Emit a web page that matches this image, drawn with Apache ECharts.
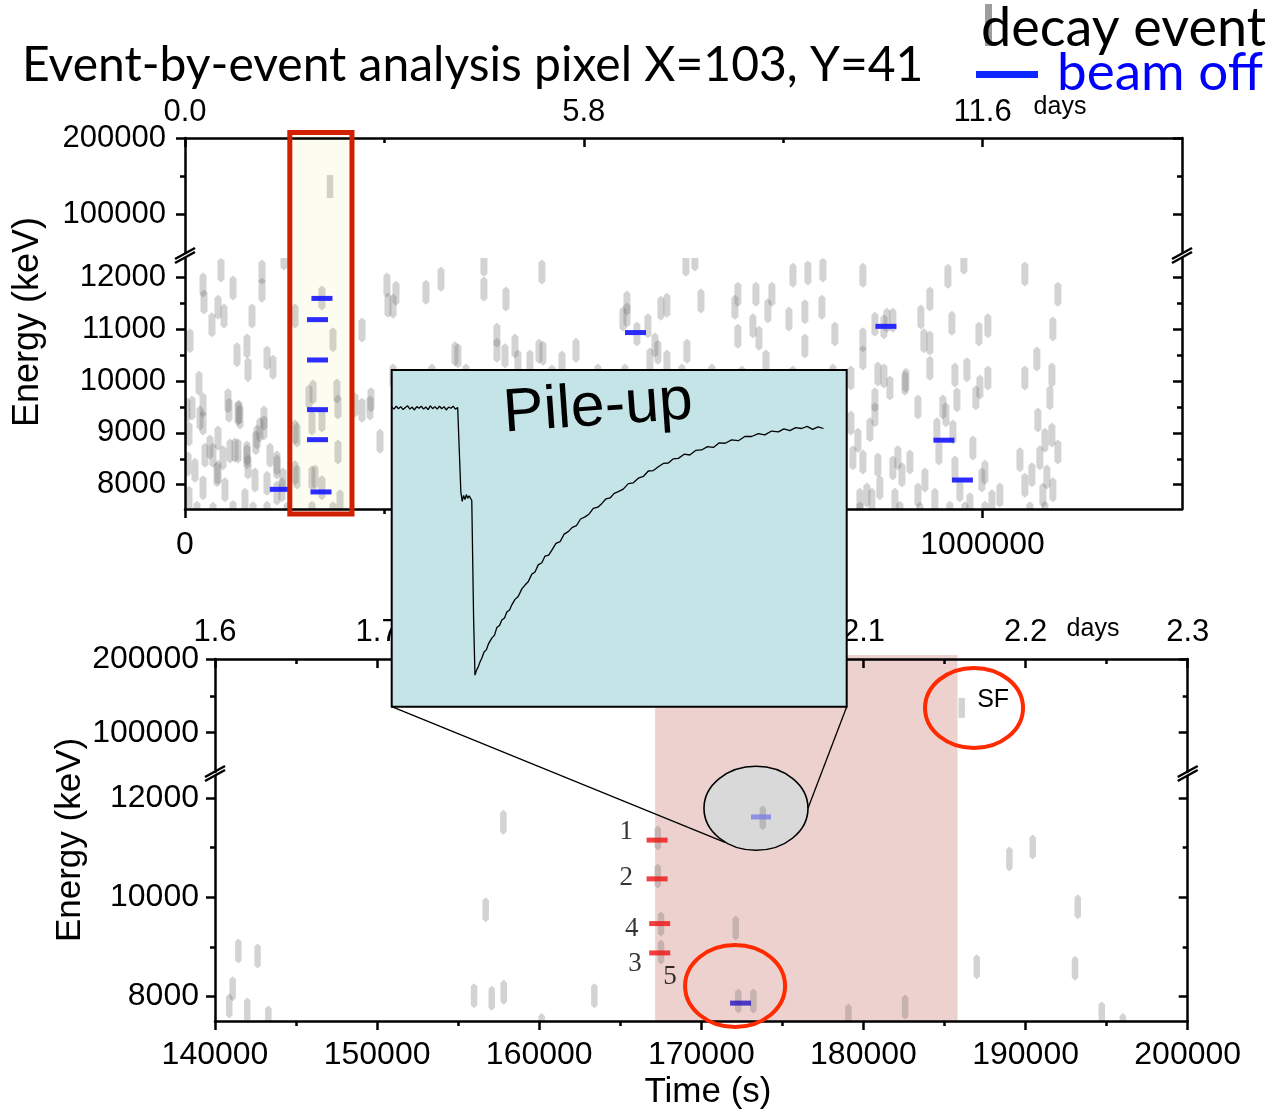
<!DOCTYPE html>
<html><head><meta charset="utf-8">
<script src="https://cdn.jsdelivr.net/npm/echarts/dist/echarts.min.js"></script>
<style>html,body{margin:0;padding:0;background:#fff}#main{width:1269px;height:1111px}</style>
</head><body><div id="main"></div>
<script>
// ---------------- DATA ----------------
// Top panel: time (s) vs energy (keV)
const topDecayUpper = [[181800, 136100]];
const topDecay = [
 [6300,10780],[17600,9960],[22600,11860],[23800,11530],[33800,11090],[41400,11430],[45100,12150],[48900,11260],
 [60200,11800],[65200,10510],[53900,9620],[77700,10680],[79000,10220],[84000,11260],[96500,12110],[96500,11760],
 [102800,10450],[110300,10270],[124100,12380],[137900,11260],[171700,11610],[185500,10800],[190500,9810],[221900,10990],
 [233200,9640],[253200,11860],[254500,11470],[160500,9790],[8800,9480],[213100,9540],[67700,9400],[99000,9290],
 [2500,9440],[3800,8400],[5000,7740],[18800,9290],[22600,7940],[31300,8730],[35100,8570],[41400,8900],[41400,8240],
 [55200,9440],[56400,8650],[66400,9380],[66400,8650],[77700,8610],[79000,8340],[90300,8920],[102800,8030],[115300,8340],
 [115300,7840],[122900,8090],[137900,9020],[137900,8230],[159200,8130],[159200,9190],[171700,9250],[171700,7940],
 [191800,8630],[191800,9500],[194300,7670],[231900,9480],[244500,8840],
 [5000,8980],[22600,9540],[22600,9190],[40100,8190],[47600,8520],[62700,8670],[68900,9310],[77700,8540],[88900,8810],
 [93900,9060],[99000,9100],[115300,8420],[121600,7900],[140400,8960],[140400,8150],[155400,9700],[163000,8150],[221900,9440],
 [12500,8280],[25100,8570],[50100,7900],[75200,7700],[87800,8090],[106600,8570],
 [15000,7450],[35100,7430],[60200,7460],[85300,7440],[102800,7450],[127900,7430],[159200,7450],[185500,7440],
 [260800,11450],[264500,11700],[302100,11720],[320900,11970],[374800,12260],[374800,11780],[402400,11590],[447500,12110],
 [391100,10890],[391100,10600],[401200,10490],[413700,10680],[338500,10530],[342200,10490],[352300,10100],[309600,10100],
 [260800,10100],[417400,10370],[432500,10370],[443800,10580],[448800,10540],[460100,10080],[472600,10350],[490200,10600],
 [517700,10100],[551600,10100],[554100,11510],[554100,11280],[549100,11200],[566600,10910],[580400,11070],[589200,10700],
 [592900,10560],[596700,11410],[604200,11470],[604200,10370],[582900,10410],[623000,10100],[629300,10580],[628000,12260],
 [639300,12360],[646900,11550],[660600,10100],[689500,11430],[693200,11680],[693200,10870],[698300,10060],[712000,11070],
 [715800,11680],[719600,10830],[728400,10370],[730800,11360],[735800,11680],[757200,11200],[762200,12050],[762200,10060],
 [777200,10680],[777200,11340],[781000,12090],[799800,12150],[798500,11430],[812300,10100],[814800,10910],[834900,10060],
 [849900,12050],[849900,10800],[849900,10450],[865000,11100],[876300,11050],[880000,11180],[887500,11180],[868700,10140],
 [876300,10100],[903800,10020],[922600,11240],[926400,10780],[933900,11590],[933900,10740],[933900,10250],[956500,12030],
 [961500,11120],[965300,10120],[976500,12300],[980300,10220],[995400,10910],[1006600,11070],[1006600,10060],[1053000,12070],
 [1053000,10060],[1068000,10430],[1088100,11010],[1086900,10120],[1094400,11680],
 [834900,9190],[837400,8520],[846200,7700],[849900,8440],[854900,7800],[861200,7700],[865000,9640],[865000,9350],
 [868700,8380],[871200,7940],[883800,9870],[887500,8320],[893800,8520],[898800,8190],[902600,9960],[908900,8440],
 [918900,9500],[918900,7800],[942700,9060],[945200,8610],[950200,9500],[954000,9350],[962800,9020],[965300,8320],
 [967800,9640],[987800,8710],[991600,9680],[996600,9890],[999100,8090],[1002900,8240],[1011700,7670],[1053000,7990],
 [1061800,8190],[1069300,9250],[1071800,8520],[1075600,7800],[1080600,8150],[1084400,9680],[1086900,8960],[1088100,7900],
 [1094400,8630],
 [843700,8860],[858700,9060],[890100,7700],[927700,8090],[940200,7700],[971500,7900],[984100,7610],[1021700,7800],
 [1046800,8480],[1078100,8860],
 [846200,7440],[896300,7450],[921300,7430],[958900,7450],[977700,7440],[1002900,7450],[1059300,7440],[1078100,7450]
];
const topBeamOff = [[119500,7910],[166100,11190],[171700,11600],[166100,10410],[166100,9450],[166100,8870],[170500,7860],
 [564800,10940],[878800,11060],[951500,8860],[974700,8090]];

// Bottom panel
const botDecayUpper = [[186060, 133700]];
const botDecay = [
 [141440,8920],[142630,8820],[141090,8160],[140880,7810],[141990,7730],[143290,7570],
 [157790,11510],[156700,9750],[155980,8020],[157070,7970],[157810,8090],[163400,8020],[160150,7420],
 [167310,11190],[167310,10430],[167510,9460],[167510,8900],
 [172120,9380],[172280,7910],[173210,7910],[173790,11600],
 [179070,7610],[182570,7790],[189000,10770],[190440,11010],[193220,9810],[186990,8600],[193050,8570],[194700,7650],[196000,7420]
];
const botBeamOff = [[172420, 7870]];
const pileupBeamOff = [[173680, 11616]];
const chainMarks = [[167270,11150],[167270,10370],[167430,9470],[167430,8880]];
const chainLabels = [[165360,11310,'1'],[165360,10390,'2'],[165710,9360,'4'],[165910,8657,'3'],[168070,8396,'5']];

// Axis tick values
const topXMajor = [0, 500000, 1000000];
const topXMinor = [250000, 750000];
const topYUpperMajor = [100000, 200000];
const topYUpperMinor = [150000];
const topYLowerMajor = [8000, 9000, 10000, 11000, 12000];
const topYLowerMinor = [8500, 9500, 10500, 11500];
const botXMajor = [140000,150000,160000,170000,180000,190000,200000];
const botXMinor = [145000,155000,165000,175000,185000,195000];
const botYUpperMajor = [100000, 200000];
const botYUpperMinor = [150000];
const botYLowerMajor = [8000, 10000, 12000];
const botYLowerMinor = [9000, 11000];

// Pile-up trace (time in µs, amplitude arb.)
const pileTime = [0,0.05,0.1,0.15,0.2,0.25,0.3,0.35,0.4,0.45,0.5,0.55,0.6,0.65,0.7,0.75,0.8,0.85,0.9,0.95,1.0,1.05,1.1,1.15,1.2,1.25,1.3,1.35,1.4,1.45,1.49,
 1.52,1.55,1.58,1.61,1.64,1.67,1.70,1.73,1.76,1.80,1.83,
 1.87,1.90,1.94,1.98,2.03,2.08,2.13,2.20,2.26,2.31,2.37,2.42,2.48,2.53,2.59,2.64,2.71,2.78,2.86,2.93,3.00,3.08,3.15,3.22,3.30,3.37,3.45,3.52,
 3.61,3.70,3.79,3.88,3.97,4.06,4.15,4.25,4.34,4.43,4.53,4.62,4.71,4.80,4.89,4.98,5.09,5.20,5.31,5.42,5.53,5.64,5.75,5.86,5.97,6.08,6.19,6.30,
 6.43,6.55,6.68,6.81,6.94,7.07,7.20,7.33,7.47,7.62,7.76,7.91,8.06,8.20,8.35,8.50,8.62,8.75,8.88,9.01,9.13,9.25,9.37,9.49];
const pileAmp = [2,-3,4,-2,3,-4,1,5,-3,2,-5,3,-1,4,-3,2,-4,5,-2,3,-3,4,-2,3,-5,2,-1,4,-3,1,-2,
 -200,-222,-208,-218,-206,-215,-209,-214,-220,-500,-635,
 -622,-616,-604,-595,-580,-575,-560,-547,-540,-522,-517,-504,-499,-485,-480,-468,-455,-448,-430,-421,-413,-395,-390,-373,-368,-352,-350,-338,
 -322,-318,-300,-294,-284,-280,-264,-259,-252,-239,-236,-227,-216,-214,-203,-199,-193,-180,-178,-167,-163,-150,-149,-140,-132,-131,-121,-120,
 -110,-112,-101,-100,-92,-94,-83,-84,-76,-78,-68,-68,-61,-64,-55,-57,-50,-54,-47,-49,-44,-51,-45,-49];

// Annotation anchors (data coordinates)
const boxRange = [131400, 209350];           // highlighted time window, top panel
const shadedRange = [167150, 185800];        // shaded window, bottom panel
const zoomCenter = [173370, 11790];           // grey callout ellipse
const circleBeam = [172080, 8215];            // red circle, lower segment
const circleSF = [186820, 133650];            // red circle, upper segment
const sfText = [188000, 144500];

// ---------------- CHART ----------------
const AXF = "'Liberation Sans', Arial, sans-serif";
const GRAY = 'rgba(110,110,110,0.3)';
const pileData = pileTime.map((t, i) => [t, pileAmp[i]]);
const numFmt = v => String(v);
const dayFmt = v => (v / 86400).toFixed(1);

function yAxes(gi, min, max, majors, minors, fs, margin) {
  const base = {type: 'value', gridIndex: gi, min, max, splitLine: {show: false}, z: 5};
  return [
    Object.assign({}, base, {position: 'left',
      axisLine: {show: true, onZero: false, lineStyle: {color: '#000', width: 2.5}},
      axisTick: {show: true, inside: false, length: 9, customValues: majors, lineStyle: {color: '#000', width: 2.5}},
      axisLabel: {show: true, customValues: majors, formatter: numFmt, color: '#000', fontSize: fs, fontFamily: AXF, margin}}),
    Object.assign({}, base, {position: 'left',
      axisLine: {show: false, onZero: false},
      axisTick: {show: true, inside: false, length: 5, customValues: minors, lineStyle: {color: '#000', width: 2.5}},
      axisLabel: {show: false}}),
    Object.assign({}, base, {position: 'right',
      axisLine: {show: true, onZero: false, lineStyle: {color: '#000', width: 2.5}},
      axisTick: {show: true, inside: true, length: 9, customValues: majors, lineStyle: {color: '#000', width: 2.5}},
      axisLabel: {show: false}}),
    Object.assign({}, base, {position: 'right',
      axisLine: {show: false, onZero: false},
      axisTick: {show: true, inside: true, length: 5, customValues: minors, lineStyle: {color: '#000', width: 2.5}},
      axisLabel: {show: false}})
  ];
}
function xAxes(gi, pos, min, max, majors, minors, fmt, inside, fs, margin) {
  const base = {type: 'value', gridIndex: gi, position: pos, min, max, splitLine: {show: false}, z: 5};
  return [
    Object.assign({}, base, {
      axisLine: {show: true, onZero: false, lineStyle: {color: '#000', width: 2.5}},
      axisTick: {show: true, inside, length: 9, customValues: majors, lineStyle: {color: '#000', width: 2.5}},
      axisLabel: {show: true, customValues: majors, formatter: fmt, color: '#000', fontSize: fs, fontFamily: AXF, margin}}),
    Object.assign({}, base, {
      axisLine: {show: false, onZero: false},
      axisTick: {show: true, inside, length: 5, customValues: minors, lineStyle: {color: '#000', width: 2.5}},
      axisLabel: {show: false}})
  ];
}
function dashRender(w, h, tip) {
  return function (params, api) {
    const c = api.coord([api.value(0), api.value(1)]);
    const cs = params.coordSys;
    let pts = [[c[0]-w/2, c[1]-h/2+tip],[c[0], c[1]-h/2],[c[0]+w/2, c[1]-h/2+tip],
               [c[0]+w/2, c[1]+h/2-tip],[c[0], c[1]+h/2],[c[0]-w/2, c[1]+h/2-tip]];
    pts = pts.map(p => [Math.min(Math.max(p[0], cs.x), cs.x + cs.width), Math.min(Math.max(p[1], cs.y), cs.y + cs.height)]);
    return {type: 'polygon', shape: {points: pts}, style: {fill: GRAY, stroke: null}};
  };
}

const TOPMAX = 1250000;
const option = {
  animation: false,
  backgroundColor: '#fff',
  grid: [
    {left: 185, top: 138, width: 997, height: 115},
    {left: 185, top: 258, width: 997, height: 251},
    {left: 215, top: 659, width: 972.7, height: 113},
    {left: 215, top: 776, width: 972.7, height: 245},
    {left: 391.7, top: 370, width: 455, height: 336.7}
  ],
  xAxis: [].concat(
    xAxes(0, 'top', 0, TOPMAX, topXMajor, topXMinor, dayFmt, true, 31, 10),
    xAxes(1, 'bottom', 0, TOPMAX, topXMajor, topXMinor, numFmt, false, 32, 20),
    xAxes(2, 'top', 140000, 200000, botXMajor, botXMinor, dayFmt, true, 31, 11),
    xAxes(3, 'bottom', 140000, 200000, botXMajor, botXMinor, numFmt, false, 32, 18),
    [{type: 'value', gridIndex: 4, min: 0, max: 10, show: false}]
  ),
  yAxis: [].concat(
    yAxes(0, 48700, 200000, topYUpperMajor, topYUpperMinor, 31, 19),
    yAxes(1, 7530, 12381, topYLowerMajor, topYLowerMinor, 31, 19),
    yAxes(2, 46700, 200000, botYUpperMajor, botYUpperMinor, 32, 16),
    yAxes(3, 7510, 12440, botYLowerMajor, botYLowerMinor, 32, 16),
    [{type: 'value', gridIndex: 4, min: -710, max: 90, show: false}]
  ),
  series: [
    {type: 'custom', name: 'decay event', xAxisIndex: 0, yAxisIndex: 0, data: topDecayUpper, renderItem: dashRender(6.5, 23, 0), z: 3},
    {type: 'custom', name: 'decay event', xAxisIndex: 2, yAxisIndex: 4, data: topDecay, renderItem: dashRender(7, 25, 3), z: 3},
    {type: 'scatter', name: 'beam off', xAxisIndex: 2, yAxisIndex: 4, data: topBeamOff, symbol: 'rect', symbolSize: [21, 5],
     itemStyle: {color: '#1a1aff', opacity: 0.92}, z: 4},
    {type: 'custom', name: 'decay event', xAxisIndex: 4, yAxisIndex: 8, data: botDecayUpper, renderItem: dashRender(6.5, 20, 0), z: 3},
    {type: 'custom', name: 'decay event', xAxisIndex: 6, yAxisIndex: 12, data: botDecay, renderItem: dashRender(6.5, 25, 3), z: 3},
    {type: 'scatter', name: 'beam off', xAxisIndex: 6, yAxisIndex: 12, data: botBeamOff, symbol: 'rect', symbolSize: [21, 5],
     itemStyle: {color: '#2211c4'}, z: 4},
    {type: 'scatter', xAxisIndex: 6, yAxisIndex: 12, data: pileupBeamOff, symbol: 'rect', symbolSize: [20, 5],
     itemStyle: {color: '#7c7ce6'}, z: 4},
    {type: 'scatter', xAxisIndex: 6, yAxisIndex: 12, data: chainMarks, symbol: 'rect', symbolSize: [21, 5],
     itemStyle: {color: '#f01010'}, z: 4},
    {type: 'scatter', xAxisIndex: 6, yAxisIndex: 12, data: chainLabels, symbolSize: 0, z: 4,
     label: {show: true, position: 'inside', formatter: p => p.data[2], color: '#000', fontSize: 27, fontFamily: "'Liberation Serif', 'Times New Roman', serif"}},
    {type: 'line', xAxisIndex: 8, yAxisIndex: 16, data: pileData, showSymbol: false, symbol: 'none',
     lineStyle: {color: '#000', width: 1.3}, z: 11, clip: false}
  ]
};

const chart = echarts.init(document.getElementById('main'));
chart.setOption(option);

const px = (xi, yi, pt) => chart.convertToPixel({xAxisIndex: xi, yAxisIndex: yi}, pt);
const g = [];
// title & legend
g.push({type: 'text', x: 22, y: 66, z: 20, style: {text: 'Event-by-event analysis pixel X=103, Y=41', font: '48px Lato', fill: '#000', verticalAlign: 'middle'}});
g.push({type: 'rect', z: 19, shape: {x: 985, y: 4, width: 7, height: 42}, style: {fill: '#9d9d9d'}});
g.push({type: 'text', x: 1266, y: 29, z: 20, style: {text: 'decay event', font: '54px Lato', fill: '#000', align: 'right', verticalAlign: 'middle'}});
g.push({type: 'rect', z: 19, shape: {x: 976, y: 71, width: 62, height: 7}, style: {fill: '#0a28ff'}});
g.push({type: 'text', x: 1263, y: 73, z: 20, style: {text: 'beam off', font: '53px Lato', fill: '#0000ff', align: 'right', verticalAlign: 'middle'}});
// axis names
g.push({type: 'text', x: 28, y: 322, rotation: Math.PI / 2, z: 20, style: {text: 'Energy (keV)', font: "36px 'Liberation Sans'", fill: '#000', align: 'center', verticalAlign: 'middle'}});
g.push({type: 'text', x: 70, y: 840, rotation: Math.PI / 2, z: 20, style: {text: 'Energy (keV)', font: "35px 'Liberation Sans'", fill: '#000', align: 'center', verticalAlign: 'middle'}});
g.push({type: 'text', x: 708, y: 1092, z: 20, style: {text: 'Time (s)', font: "35px 'Liberation Sans'", fill: '#000', align: 'center', verticalAlign: 'middle'}});
g.push({type: 'text', x: 1060, y: 107, z: 20, style: {text: 'days', font: "25px 'Liberation Sans'", fill: '#000', align: 'center', verticalAlign: 'middle'}});
g.push({type: 'text', x: 1093, y: 629, z: 20, style: {text: 'days', font: "25px 'Liberation Sans'", fill: '#000', align: 'center', verticalAlign: 'middle'}});

// highlighted box (top panel)
const bx0 = px(2, 4, [boxRange[0], 10000])[0], bx1 = px(2, 4, [boxRange[1], 10000])[0];
g.push({type: 'rect', z: 1, shape: {x: bx0, y: 132.5, width: bx1 - bx0, height: 381.5}, style: {fill: '#fdfcf0'}});
g.push({type: 'rect', z: 6, shape: {x: bx0, y: 132.5, width: bx1 - bx0, height: 381.5}, style: {fill: 'none', stroke: '#d21f00', lineWidth: 5}});

// shaded window (bottom panel)
const sx0 = px(6, 12, [shadedRange[0], 8000])[0], sx1 = px(6, 12, [shadedRange[1], 8000])[0];
const sBottom = px(6, 12, [150000, 7510])[1];
g.push({type: 'rect', z: 1, shape: {x: sx0, y: 655, width: sx1 - sx0, height: sBottom - 655}, style: {fill: '#ecd1ce'}});

// grey callout ellipse
const ec = px(6, 12, zoomCenter);
g.push({type: 'ellipse', z: 2, shape: {cx: ec[0], cy: ec[1], rx: 52, ry: 42}, style: {fill: '#d9d9d9', stroke: '#000', lineWidth: 1.6}});

// red circles
const cb = px(6, 12, circleBeam);
g.push({type: 'ellipse', z: 13, shape: {cx: cb[0], cy: cb[1], rx: 50, ry: 41}, style: {fill: 'none', stroke: '#ff2a00', lineWidth: 4}});
const cs = px(4, 8, circleSF);
g.push({type: 'ellipse', z: 13, shape: {cx: cs[0], cy: cs[1], rx: 49, ry: 40}, style: {fill: 'none', stroke: '#ff2a00', lineWidth: 4}});
const st = px(4, 8, sfText);
g.push({type: 'text', x: st[0], y: st[1], z: 13, style: {text: 'SF', font: "25px 'Liberation Sans'", fill: '#000', align: 'center', verticalAlign: 'middle'}});

// inset
const IL = 391.7, IT = 370, IW = 455, IH = 336.7;
g.push({type: 'rect', z: 9, shape: {x: IL, y: IT, width: IW, height: IH}, style: {fill: '#c4e4e7'}});
g.push({type: 'rect', z: 12, shape: {x: IL, y: IT, width: IW, height: IH}, style: {fill: 'none', stroke: '#000', lineWidth: 2}});
g.push({type: 'text', x: 598, y: 408, rotation: 0.07, z: 12, style: {text: 'Pile-up', font: "61px 'Liberation Sans'", fill: '#000', align: 'center', verticalAlign: 'middle'}});
g.push({type: 'line', z: 12, shape: {x1: IL, y1: IT + IH, x2: ec[0] - 31, y2: ec[1] + 34}, style: {stroke: '#000', lineWidth: 1.3}});
g.push({type: 'line', z: 12, shape: {x1: IL + IW, y1: IT + IH, x2: ec[0] + 52, y2: ec[1]}, style: {stroke: '#000', lineWidth: 1.3}});

// axis break marks
function brk(x, y) {
  g.push({type: 'line', z: 7, shape: {x1: x - 10, y1: y + 7, x2: x + 10, y2: y - 4}, style: {stroke: '#000', lineWidth: 2.5}});
  g.push({type: 'line', z: 7, shape: {x1: x - 10, y1: y + 3, x2: x + 10, y2: y - 8}, style: {stroke: '#000', lineWidth: 2.5}});
}
brk(185, 256); brk(1182, 256); brk(215, 774); brk(1187.7, 774);

chart.setOption({graphic: {elements: g}});
</script></body></html>
